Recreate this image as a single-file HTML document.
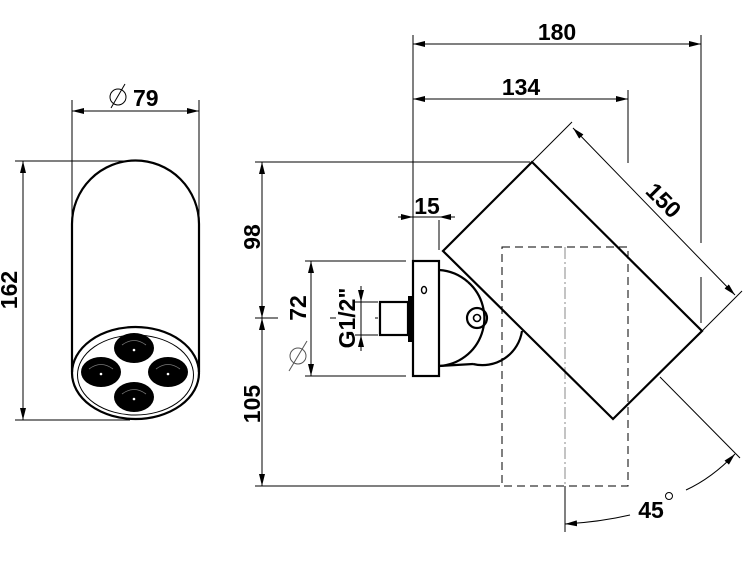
<!DOCTYPE html>
<html><head><meta charset="utf-8"><style>
html,body{margin:0;padding:0;background:#fff;}
svg{display:block;}
text{font-family:"Liberation Sans",sans-serif;font-size:23px;font-weight:bold;fill:#000;}
</style></head><body>
<svg width="750" height="563" viewBox="0 0 750 563" xmlns="http://www.w3.org/2000/svg">
<defs>
<marker id="a" viewBox="0 0 12 6" refX="12" refY="3" markerWidth="12" markerHeight="6" orient="auto-start-reverse" markerUnits="userSpaceOnUse"><path d="M0,0 L12,3 L0,6 Z" fill="#000"/></marker>
</defs>
<g stroke="#000" fill="none" stroke-width="1">
<line x1="72" y1="100" x2="72" y2="230"/>
<line x1="199" y1="100" x2="199" y2="230"/>
<line x1="72" y1="111" x2="199" y2="111" marker-start="url(#a)" marker-end="url(#a)"/>
<line x1="15" y1="161" x2="135" y2="161"/>
<line x1="15" y1="420" x2="130" y2="420"/>
<line x1="23" y1="161" x2="23" y2="420" marker-start="url(#a)" marker-end="url(#a)"/>
<line x1="111" y1="108" x2="125" y2="84"/>
</g>
<g stroke="#000" fill="none" stroke-width="2.2">
<path d="M72,372 L72,224 A63.5,63.5 0 0 1 199,224 L199,372"/>
<ellipse cx="135.5" cy="373" rx="63.5" ry="46"/>
<ellipse cx="135.5" cy="375" rx="58" ry="40" stroke-width="1"/>
</g>
<g fill="#000">
<ellipse cx="134" cy="348" rx="20" ry="15"/>
<ellipse cx="101" cy="372" rx="20" ry="15"/>
<ellipse cx="168" cy="372" rx="20" ry="15"/>
<ellipse cx="134" cy="397" rx="20" ry="15"/>
</g>
<g fill="none" stroke="#777" stroke-width="0.8">
<path d="M122,345 Q134,336 146,345"/><path d="M89,369 Q101,360 113,369"/><path d="M156,369 Q168,360 180,369"/><path d="M122,394 Q134,385 146,394"/>
</g>
<g fill="#fff"><circle cx="134" cy="350" r="1.3"/><circle cx="101" cy="374" r="1.3"/><circle cx="168" cy="374" r="1.3"/><circle cx="134" cy="399" r="1.3"/></g>
<text x="133" y="106">79</text>
<circle cx="118" cy="97" r="8" fill="none" stroke="#000" stroke-width="1"/>
<text transform="translate(17,290) rotate(-90)" text-anchor="middle">162</text>

<g stroke="#000" fill="none" stroke-width="1">
<line x1="413" y1="35" x2="413" y2="262"/>
<line x1="701" y1="35" x2="701" y2="243"/>
<line x1="701" y1="277" x2="701" y2="323"/>
<line x1="628" y1="90" x2="628" y2="163"/>
<line x1="413" y1="44" x2="701" y2="44" marker-start="url(#a)" marker-end="url(#a)"/>
<line x1="413" y1="99" x2="628" y2="99" marker-start="url(#a)" marker-end="url(#a)"/>
<line x1="255" y1="162" x2="530" y2="162"/>
<line x1="255" y1="486" x2="500" y2="486"/>
<line x1="262" y1="162" x2="262" y2="318" marker-start="url(#a)" marker-end="url(#a)"/>
<line x1="262" y1="318" x2="262" y2="486" marker-start="url(#a)" marker-end="url(#a)"/>
<line x1="255" y1="318" x2="278" y2="318"/>
<line x1="330" y1="318" x2="336" y2="318"/>
<line x1="375" y1="318" x2="378" y2="318"/>
<line x1="305" y1="261" x2="406" y2="261"/>
<line x1="305" y1="376" x2="406" y2="376"/>
<line x1="311" y1="261" x2="311" y2="376" marker-start="url(#a)" marker-end="url(#a)"/>
<line x1="355" y1="302" x2="378" y2="302"/>
<line x1="355" y1="335" x2="378" y2="335"/>
<line x1="361" y1="286" x2="361" y2="302" marker-end="url(#a)"/>
<line x1="361" y1="351" x2="361" y2="335" marker-end="url(#a)"/>
<line x1="361" y1="302" x2="361" y2="335"/>
<line x1="398" y1="217" x2="413" y2="217" marker-end="url(#a)"/>
<line x1="455" y1="217" x2="439" y2="217" marker-end="url(#a)"/>
<line x1="413" y1="217" x2="439" y2="217"/>
<line x1="439" y1="220" x2="439" y2="250"/>
<line x1="532" y1="162" x2="572" y2="122"/>
<line x1="702" y1="331" x2="742" y2="291"/>
<line x1="573" y1="128" x2="735" y2="295" marker-start="url(#a)" marker-end="url(#a)"/>
<line x1="660" y1="377" x2="740" y2="458"/>
<line x1="565" y1="486" x2="565" y2="532"/>
<path d="M565,524 Q600,522 630,515" marker-start="url(#a)"/>
<path d="M686,490 Q712,478 735,454" marker-end="url(#a)"/>
</g>
<line x1="289" y1="371" x2="307" y2="341" stroke="#555" stroke-width="1"/>
<circle cx="298" cy="356" r="8" fill="none" stroke="#555" stroke-width="1"/>
<g stroke="#000" fill="none" stroke-width="1" stroke-dasharray="8,5">
<rect x="502" y="247" width="126" height="239"/>
<line x1="565" y1="247" x2="565" y2="486" stroke-dasharray="12,3,2,3" stroke="#888"/>
</g>
<g stroke="#000" fill="none" stroke-width="2.2">
<polygon points="532,162 702,331 613,419 443,251"/>
<path d="M439,270 A48,48 0 0 1 468,282"/>
<path d="M468,282 A48,48 0 0 1 439,366" />
<path d="M473,364 A40,40 0 0 0 522,331"/>
<path d="M439,366 L473,364"/>
<rect x="413" y="261" width="26" height="115" fill="#fff"/>
<rect x="380" y="302" width="28" height="33"/>
<circle cx="477" cy="318" r="10"/>
<circle cx="477" cy="318" r="3.5" stroke-width="1.6"/>
<ellipse cx="424" cy="290" rx="2.5" ry="3.5" stroke-width="1.4"/>
</g>
<rect x="408" y="296" width="5" height="46" fill="#000"/>
<text x="557" y="40" text-anchor="middle">180</text>
<text x="521" y="95" text-anchor="middle">134</text>
<text x="427" y="214" text-anchor="middle">15</text>
<text transform="translate(260,237) rotate(-90)" text-anchor="middle">98</text>
<text transform="translate(260,404) rotate(-90)" text-anchor="middle">105</text>
<text transform="translate(306,308) rotate(-90)" text-anchor="middle">72</text>
<text transform="translate(355,318) rotate(-90)" text-anchor="middle" font-size="21">G1/2"</text>
<text transform="translate(658,206) rotate(45)" text-anchor="middle">150</text>
<text x="651" y="518" text-anchor="middle">45</text>
<circle cx="669" cy="496" r="3.5" fill="none" stroke="#000" stroke-width="1"/>
</svg>
</body></html>
